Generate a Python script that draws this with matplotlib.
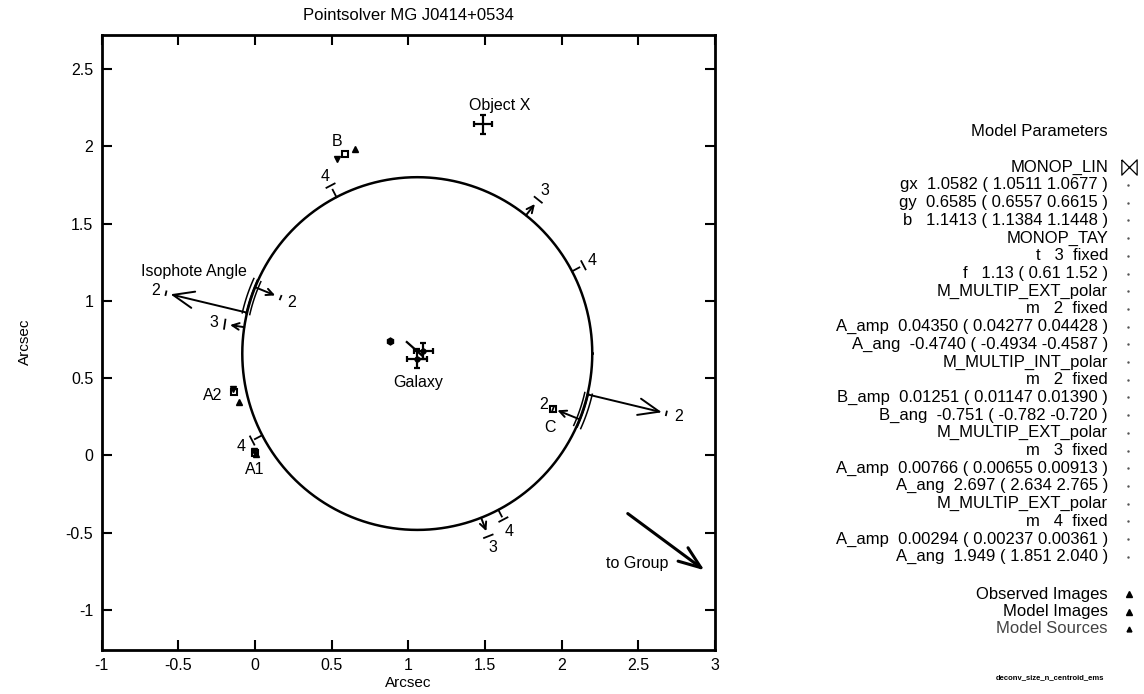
import numpy as np
import matplotlib
matplotlib.use("Agg")
import matplotlib.pyplot as plt
from matplotlib.path import Path

plt.rcParams['font.family'] = ['Liberation Sans', 'DejaVu Sans']
plt.rcParams['axes.unicode_minus'] = False

# lens model: critical circle centre and radius
gx, gy, b = 1.0582, 0.6585, 1.1413

x_ticks = [-1, -0.5, 0, 0.5, 1, 1.5, 2, 2.5, 3]
x_tick_labels = ['-1', '-0.5', '0', '0.5', '1', '1.5', '2', '2.5', '3']
y_ticks = [-1, -0.5, 0, 0.5, 1, 1.5, 2, 2.5]
y_tick_labels = ['-1', '-0.5', '0', '0.5', '1', '1.5', '2', '2.5']

# multipole angle marks on the circle (angle in deg, radii of arrow tip, end bar, label)
mark_order = ['2', '2', '2', '2', '3', '3', '3', '4', '4', '4', '4']
mark_angle = [166.6, -13.4, 157.9, -21.9, 51.6, 171.4, 291.4, 117.5, 207.6, 297.6, 27.8]
mark_tip = [1.655, 1.64, 1.0, 0.985, 1.235, 1.235, 1.235, 1.195, 1.195, 1.19, 1.195]
mark_bar = [1.685, 1.67, 0.962, 0.955, 1.27, 1.27, 1.27, 1.225, 1.215, 1.212, 1.225]
mark_text = [1.755, 1.75, 0.885, 0.885, 1.345, 1.34, 1.345, 1.295, 1.295, 1.298, 1.29]

# isophote angle ranges drawn as triple arcs
iso_from = [155.5, -24.5]
iso_to = [167.0, -13.0]

# images
obs_x = [0.654, -0.104, 0.008]
obs_y = [1.985, 0.345, 0.008]
mod_x = [0.533, -0.142, -0.008]
mod_y = [1.92, 0.43, 0.025]
box_x = [0.589, -0.135, 0.0, 1.942]
box_y = [1.953, 0.41, 0.015, 0.302]
src_x = [0.883]
src_y = [0.74]

# galaxy and object X positions with errors
gal_x = [1.055, 1.098]
gal_y = [0.625, 0.675]
gal_xerr = [0.065, 0.06]
gal_yerr = [0.06, 0.05]
objx_x, objx_y = 1.485, 2.142

labels = ['Object X', 'B', 'A2', 'A1', 'C', 'Galaxy', 'Isophote Angle', 'to Group']
label_x = [1.595, 0.538, -0.276, 0.0, 1.924, 1.065, -0.398, 2.49]
label_y = [2.265, 2.028, 0.388, -0.093, 0.177, 0.474, 1.19, -0.70]

params = ["MONOP_LIN", "gx  1.0582 ( 1.0511 1.0677 )", "gy  0.6585 ( 0.6557 0.6615 )",
          "b   1.1413 ( 1.1384 1.1448 )", "MONOP_TAY", "t   3  fixed",
          "f   1.13 ( 0.61 1.52 )", "M_MULTIP_EXT_polar", "m   2  fixed",
          "A_amp  0.04350 ( 0.04277 0.04428 )", "A_ang  -0.4740 ( -0.4934 -0.4587 )",
          "M_MULTIP_INT_polar", "m   2  fixed", "B_amp  0.01251 ( 0.01147 0.01390 )",
          "B_ang  -0.751 ( -0.782 -0.720 )", "M_MULTIP_EXT_polar", "m   3  fixed",
          "A_amp  0.00766 ( 0.00655 0.00913 )", "A_ang  2.697 ( 2.634 2.765 )",
          "M_MULTIP_EXT_polar", "m   4  fixed", "A_amp  0.00294 ( 0.00237 0.00361 )",
          "A_ang  1.949 ( 1.851 2.040 )"]
legend_names = ["Observed Images", "Model Images", "Model Sources"]


def polar(r, deg):
    t = np.radians(deg)
    return gx + r * np.cos(t), gy + r * np.sin(t)


W, H = 1144, 694
fig = plt.figure(figsize=(W / 100, H / 100), dpi=100)
ax = fig.add_axes([101.7 / W, 44 / H, 613.3 / W, 615 / H])
ax.set_xlim(-1, 3)
ax.set_ylim(-1.26, 2.72)

ax.set_xticks(x_ticks)
ax.set_xticklabels(x_tick_labels)
ax.set_yticks(y_ticks)
ax.set_yticklabels(y_tick_labels)
ax.tick_params(direction='in', length=7, width=1.5, top=True, right=True,
               labelsize=11.5, pad=6)
for s in ax.spines.values():
    s.set_linewidth(2)

# critical circle
th = np.linspace(0, 360, 721)
cx, cy = polar(b, th)
ax.plot(cx, cy, color='black', lw=1.8)

# isophote angle triple arcs
for a0, a1 in zip(iso_from, iso_to):
    th = np.linspace(a0, a1, 30)
    for dr in [-0.02, 0.005, 0.03]:
        px, py = polar(b + dr, th)
        ax.plot(px, py, color='black', lw=1.1)

# multipole marks
for m, ang, rt, rb, rl in zip(mark_order, mark_angle, mark_tip, mark_bar, mark_text):
    sx, sy = polar(b, ang)
    tx, ty = polar(rt, ang)
    big = rt - b > 0.3
    if m == '4':
        ax.plot([sx, tx], [sy, ty], color='black', lw=1.3)
    else:
        hl = 0.75 if big else 0.25
        hw = 0.3 if big else 0.12
        ax.annotate('', xy=(tx, ty), xytext=(sx, sy),
                    arrowprops=dict(arrowstyle='->, head_length=%.2f, head_width=%.2f' % (hl, hw),
                                    lw=1.4, color='black', shrinkA=0, shrinkB=0,
                                    mutation_scale=20))
    half = 0.012 if m == '2' else 0.03
    t = np.radians(ang)
    bx, by = polar(rb, ang)
    ax.plot([bx - half * np.sin(t), bx + half * np.sin(t)],
            [by + half * np.cos(t), by - half * np.cos(t)], color='black', lw=1.3)
    lx, ly = polar(rl, ang)
    ax.text(lx, ly, m, ha='center', va='center', fontsize=11.5)

# images and sources
ax.plot(box_x, box_y, 's', color='black', ms=4, mfc='none', mew=1.5)
ax.plot(obs_x, obs_y, '^', color='black', ms=5)
ax.plot(mod_x, mod_y, 'v', color='black', ms=5)
ax.plot(src_x, src_y, 'h', color='black', ms=5)

# galaxy
ax.errorbar(gal_x, gal_y, xerr=gal_xerr, yerr=gal_yerr, fmt='none', ecolor='black',
            elinewidth=1.6, capsize=2.5, capthick=1.6)
ax.plot([0.99, 1.09], [0.733, 0.645], color='black', lw=1.6)
ax.plot(gal_x, gal_y, 'o', color='black', ms=3.5)

# object X
ax.errorbar([objx_x], [objx_y], xerr=0.06, yerr=0.06, fmt='none', ecolor='black',
            elinewidth=1.6, capsize=2, capthick=1.6)

# group direction
ax.annotate('', xy=(2.931, -0.744), xytext=(2.431, -0.377),
            arrowprops=dict(arrowstyle='->, head_length=0.8, head_width=0.3',
                            lw=2.2, color='black', shrinkA=0, shrinkB=0, mutation_scale=20))

for s, x, y in zip(labels, label_x, label_y):
    ax.text(x, y, s, ha='center', va='center', fontsize=11.5)

# titles and axis labels
fig.text(408 / W, 1 - 16 / H, "Pointsolver MG J0414+0534", ha='center', va='center', fontsize=12)
fig.text(408 / W, 1 - 683 / H, "Arcsec", ha='center', va='center', fontsize=11)
fig.text(25 / W, 1 - 342 / H, "Arcsec", ha='center', va='center', fontsize=11, rotation=90)

# parameter panel
fig.text(1108 / W, 1 - 131 / H, "Model Parameters", ha='right', va='center', fontsize=12)
y0, dy = 167.3, 17.7
for i, line in enumerate(params):
    yy = 1 - (y0 + i * dy) / H
    fig.text(1108 / W, yy, line, ha='right', va='center', fontsize=12)
    if i > 0:
        fig.lines.append(plt.Line2D([1128 / W], [yy], transform=fig.transFigure,
                                    marker='.', ms=1.5, color='#555555', ls='none'))

bowtie = Path([(-1, 1), (1, -1), (1, 1), (-1, -1), (-1, 1)])
fig.lines.append(plt.Line2D([1129 / W], [1 - y0 / H], transform=fig.transFigure,
                            marker=bowtie, ms=11, mfc='none', mec='black', mew=0.9, ls='none'))

leg_y = [594, 611.7, 628.5]
leg_ms = [4, 4.5, 3.5]
leg_col = ['black', 'black', '#444444']
for name, yy, ms, c in zip(legend_names, leg_y, leg_ms, leg_col):
    fig.text(1108 / W, 1 - yy / H, name, ha='right', va='center', fontsize=12, color=c)
    fig.lines.append(plt.Line2D([1129 / W], [1 - yy / H], transform=fig.transFigure,
                                marker='^', ms=ms, color='black', ls='none'))

fig.text(1050 / W, 1 - 678 / H, "deconv_size_n_centroid_ems", ha='center', va='center',
         fontsize=5.5, fontweight='bold')

fig.savefig('out.png', dpi=100)
